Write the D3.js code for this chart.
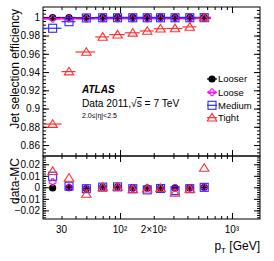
<!DOCTYPE html>
<html>
<head>
<meta charset="utf-8">
<script src="https://cdn.jsdelivr.net/npm/d3@7"></script>
<style>
  body { margin: 0; background: #fff; }
  svg { font-family: "Liberation Sans", Arial, sans-serif; }
</style>
</head>
<body>
<svg id="chart" width="274" height="261"></svg>
<script>
// bins in pT [GeV]
let ptCenters = [25, 35, 50, 70, 95, 130, 175, 230, 310, 420, 565];
let ptLow     = [20, 30, 40, 60, 80, 110, 150, 200, 260, 360, 480];
let ptHigh    = [30, 40, 60, 80, 110, 150, 200, 260, 360, 480, 650];

// efficiency per working point
let effLooser = [0.9998, 0.9998, 0.9997, 0.9999, 0.9999, 0.9999, 0.9999, 0.9999, 0.9999, 0.9999, 0.9999];
let effLoose  = [0.9985, 0.9986, 0.9986, 0.9988, 0.9988, 0.9988, 0.9988, 0.9988, 0.9988, 0.9988, 0.9990];
let effMedium = [0.9880, 0.9952, 0.9993, 0.9995, 0.9995, 0.9995, 0.9995, 0.9995, 0.9995, 0.9995, 0.9996];
let effTight  = [0.8830, 0.9405, 0.9620, 0.9785, 0.9810, 0.9830, 0.9850, 0.9875, 0.9878, 0.9895, 0.9995];

// data - MC
let diffLooser = [-0.0005, -0.0003, -0.0012, 0.0003, 0.0004, -0.0006, -0.0006, -0.0006, -0.0005, -0.0005, 0.0];
let diffLoose  = [0.0045, 0.0, -0.0010, 0.0003, 0.0004, -0.0006, -0.0006, -0.0006, -0.0005, -0.0005, 0.0];
let diffMedium = [0.0097, 0.0010, -0.0012, 0.0002, 0.0004, -0.0012, -0.0022, -0.0010, -0.0028, -0.0012, 0.0];
let diffTight  = [0.0140, 0.0082, -0.0058, 0.0, 0.0003, -0.0018, -0.0012, -0.0008, -0.0048, -0.0015, 0.0168];

let legendLabels = ["Looser", "Loose", "Medium", "Tight"];
let xTickLabels  = [[30, "30"], [100, "10²"], [200, "2×10²"], [1000, "10³"]];

let svg = d3.select("#chart");

let L = 43, R = 260;
let top1 = 7, bot1 = 156, top2 = 156, bot2 = 219;

let x  = d3.scaleLog().domain([20.5, 1780]).range([L, R]);
let y1 = d3.scaleLinear().domain([0.848, 1.0113]).range([bot1, top1]);
let y2 = d3.scaleLinear().domain([-0.0275, 0.0272]).range([bot2, top2]);

let series = [
  {name: "Looser", color: "#000000", shape: "circle", eff: effLooser, diff: diffLooser},
  {name: "Loose",  color: "#ff00ff", shape: "cross",  eff: effLoose,  diff: diffLoose},
  {name: "Medium", color: "#2a2aff", shape: "square", eff: effMedium, diff: diffMedium},
  {name: "Tight",  color: "#ff3030", shape: "tri",    eff: effTight,  diff: diffTight}
];

function marker(g, shape, color, cx, cy) {
  if (shape == "circle") {
    g.append("circle").attr("cx", cx).attr("cy", cy).attr("r", 3.6).attr("fill", color);
  } else if (shape == "square") {
    g.append("rect").attr("x", cx - 4).attr("y", cy - 4).attr("width", 8).attr("height", 8)
      .attr("fill", "none").attr("stroke", color).attr("stroke-width", 1.1);
  } else if (shape == "tri") {
    g.append("path").attr("d", `M${cx},${cy - 4.3}L${cx + 4.7},${cy + 3.3}L${cx - 4.7},${cy + 3.3}Z`)
      .attr("fill", "none").attr("stroke", color).attr("stroke-width", 1.1);
  } else {
    let a = 1.2, b = 3.4;
    g.append("path").attr("d",
      `M${cx - a},${cy - b}H${cx + a}V${cy - a}H${cx + b}V${cy + a}H${cx + a}V${cy + b}H${cx - a}V${cy + a}H${cx - b}V${cy - a}H${cx - a}Z`)
      .attr("fill", "none").attr("stroke", color).attr("stroke-width", 1);
  }
}

// ---- axes / ticks ----
function yTicks(scale, majors, minors, x0, x1) {
  let g = svg.append("g");
  g.append("g").attr("transform", `translate(${x0},0)`)
    .call(d3.axisLeft(scale).tickValues(minors).tickSize(-3).tickFormat(""));
  g.append("g").attr("transform", `translate(${x0},0)`)
    .call(d3.axisLeft(scale).tickValues(majors).tickSize(-6).tickPadding(3)
      .tickFormat(d => d3.format("")(+d.toFixed(3))));
  g.append("g").attr("transform", `translate(${x1},0)`)
    .call(d3.axisRight(scale).tickValues(minors).tickSize(-3).tickFormat(""));
  g.append("g").attr("transform", `translate(${x1},0)`)
    .call(d3.axisRight(scale).tickValues(majors).tickSize(-6).tickFormat(""));
  g.selectAll(".domain").remove();
  g.selectAll("text").attr("font-size", 10).attr("font-family", "Liberation Sans, Arial, sans-serif").attr("fill", "#000");
  return g;
}

let y1Major = d3.range(0.86, 1.001, 0.02);
let y1Minor = d3.range(0, 41).map(i => 0.852 + i * 0.004).filter(v => v <= 1.0113);
yTicks(y1, y1Major, y1Minor, L, R);

let y2Major = [-0.02, -0.01, 0, 0.01, 0.02];
let y2Minor = d3.range(0, 28).map(i => -0.026 + i * 0.002).filter(v => v <= 0.0272);
yTicks(y2, y2Major, y2Minor, L, R);

let xMinor = [30, 40, 50, 60, 70, 80, 90, 200, 300, 400, 500, 600, 700, 800, 900];
let xMajor = [100, 1000];
function xTicks(yy, dir) {
  let g = svg.append("g").attr("transform", `translate(0,${yy})`);
  let ax = dir > 0 ? d3.axisBottom : d3.axisTop;
  g.append("g").call(ax(x).tickValues(xMinor).tickSize(-3).tickFormat(""));
  g.append("g").call(ax(x).tickValues(xMajor).tickSize(-6).tickFormat(""));
  g.selectAll(".domain").remove();
}
xTicks(top1, -1);
xTicks(bot1, 1);
xTicks(top2, -1);
xTicks(bot2, 1);

svg.append("g").selectAll("text").data(xTickLabels).join("text")
  .attr("x", d => x(d[0])).attr("y", 233)
  .attr("text-anchor", "middle").attr("font-size", 10)
  .text(d => d[1]);

// frames
svg.append("rect").attr("x", L).attr("y", top1).attr("width", R - L).attr("height", bot1 - top1)
  .attr("fill", "none").attr("stroke", "#000");
svg.append("rect").attr("x", L).attr("y", top2).attr("width", R - L).attr("height", bot2 - top2)
  .attr("fill", "none").attr("stroke", "#000");

// ---- top panel data ----
let topG = svg.append("g");
series.forEach(s => {
  topG.append("g").selectAll("line").data(s.eff).join("line")
    .attr("x1", (d, i) => Math.max(L, x(ptLow[i]))).attr("x2", (d, i) => x(ptHigh[i]))
    .attr("y1", d => y1(d)).attr("y2", d => y1(d))
    .attr("stroke", s.color).attr("stroke-width", s.shape == "cross" ? 2 : 1.2);
});
series.forEach(s => {
  let g = topG.append("g");
  s.eff.forEach((d, i) => marker(g, s.shape, s.color, x(ptCenters[i]), y1(d)));
});

// ---- bottom panel data ----
let botG = svg.append("g");
series.forEach(s => {
  let g = botG.append("g");
  s.diff.forEach((d, i) => marker(g, s.shape, s.color, x(ptCenters[i]), y2(d)));
});

// ---- legend ----
let legY = [79, 92.3, 105.3, 117.7];
series.forEach((s, i) => {
  let g = svg.append("g");
  g.append("line").attr("x1", 207).attr("x2", 217).attr("y1", legY[i]).attr("y2", legY[i])
    .attr("stroke", s.color).attr("stroke-width", 1.2);
  marker(g, s.shape, s.color, 212, legY[i]);
  g.append("text").attr("x", 218).attr("y", legY[i] + 3.4).attr("font-size", 9.5).text(legendLabels[i]);
});

// ---- labels ----
svg.append("text").attr("x", 82).attr("y", 93).attr("font-size", 10)
  .attr("font-weight", "bold").attr("font-style", "italic").text("ATLAS");
let dt = svg.append("text").attr("x", 82).attr("y", 107).attr("font-size", 10.2);
dt.append("tspan").text("Data 2011,√");
dt.append("tspan").attr("text-decoration", "overline").text("s");
dt.append("tspan").text(" = 7 TeV");
svg.append("text").attr("x", 82).attr("y", 118).attr("font-size", 7).text("2.0≤|η|<2.5");

svg.append("text").attr("transform", "translate(19,9) rotate(-90)")
  .attr("text-anchor", "end").attr("font-size", 12).text("Jet selection efficiency");
svg.append("text").attr("transform", "translate(19,158) rotate(-90)")
  .attr("text-anchor", "end").attr("font-size", 12).text("data-MC");

let pt = svg.append("text").attr("x", 260).attr("y", 250).attr("text-anchor", "end").attr("font-size", 12);
pt.append("tspan").text("p");
pt.append("tspan").attr("font-size", 8).attr("dy", 3).text("T");
pt.append("tspan").attr("dy", -3).text(" [GeV]");
</script>
</body>
</html>
